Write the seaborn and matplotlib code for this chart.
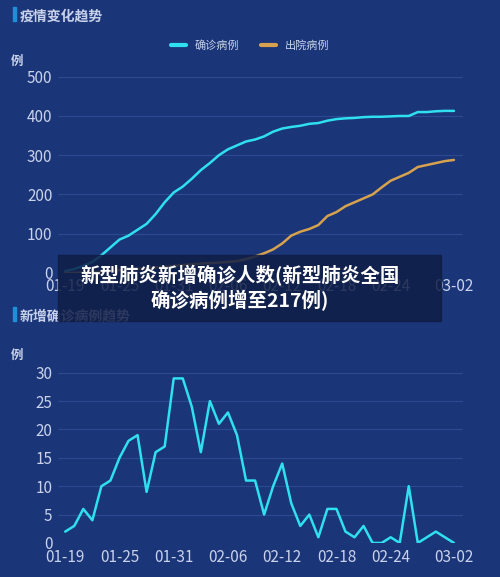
import matplotlib
matplotlib.use("Agg")
import matplotlib.pyplot as plt
import seaborn as sns
import pandas as pd
import numpy as np
from matplotlib.patches import Rectangle

sns.set_theme(style="dark")
plt.rcParams['font.family'] = ['Noto Sans CJK SC', 'DejaVu Sans']

tick_labels = ["01-19", "01-25", "01-31", "02-06", "02-12", "02-18", "02-24", "03-02"]
tick_days = [0, 6, 12, 18, 24, 30, 36, 43]
confirmed = [5, 10, 18, 28, 45, 65, 85, 95, 110, 125, 150, 180, 205, 220, 240, 262, 280, 300,
             315, 325, 335, 340, 348, 360, 368, 372, 375, 380, 382, 388, 392, 394, 395, 397,
             398, 398, 399, 400, 400, 410, 410, 412, 413, 413]
discharged = [0, 0, 1, 2, 3, 5, 7, 9, 10, 12, 14, 16, 18, 20, 22, 24, 25, 26, 28, 30, 35, 42,
              50, 60, 75, 95, 105, 112, 122, 145, 155, 170, 180, 190, 200, 218, 235, 245, 255,
              270, 275, 280, 285, 288]
new_cases = [2, 3, 6, 4, 10, 11, 15, 18, 19, 9, 16, 17, 29, 29, 24, 16, 25, 21, 23, 19, 11, 11,
             5, 10, 14, 7, 3, 5, 1, 6, 6, 2, 1, 3, 0, 0, 1, 0, 10, 0, 1, 2, 1, 0]
days = np.arange(len(confirmed))

BG = "#1b3579"
GRID = "#2c4a8f"
TXT = "#c8d2ea"
CYAN = "#2fe0f0"
ORANGE = "#d6a24e"

fig = plt.figure(figsize=(5, 5.77), dpi=100, facecolor=BG)
ax1 = fig.add_axes([0.116, 0.527, 0.81, 0.34], facecolor=BG)
ax2 = fig.add_axes([0.116, 0.059, 0.81, 0.295], facecolor=BG)

df1 = pd.DataFrame({"d": np.concatenate([days, days]),
                    "v": confirmed + discharged,
                    "s": ["确诊病例"] * len(days) + ["出院病例"] * len(days)})
sns.lineplot(data=df1, x="d", y="v", hue="s", palette=[CYAN, ORANGE], ax=ax1, lw=1.8, legend=False)
sns.lineplot(x=days, y=new_cases, ax=ax2, color=CYAN, lw=1.8)

for ax, top, step in [(ax1, 500, 100), (ax2, 30, 5)]:
    ax.set_xlim(-0.8, 44)
    ax.set_ylim(0, top)
    ax.set_yticks(np.arange(0, top + 1, step))
    ax.set_xticks(tick_days)
    ax.set_xticklabels(tick_labels)
    ax.grid(axis="y", color=GRID, lw=0.8)
    ax.grid(axis="x", visible=False)
    for s in ax.spines.values():
        s.set_visible(False)
    ax.tick_params(colors=TXT, labelsize=11, length=0, pad=4)
    ax.set_xlabel("")
    ax.set_ylabel("")
    ax.text(-0.1, 1.06 if top == 500 else 1.08, "例", transform=ax.transAxes, color=TXT, fontsize=9,
            ha="center", fontweight="bold")

# titles
for y, t in [(0.972, "疫情变化趋势"), (0.452, "新增确诊病例趋势")]:
    fig.patches.append(Rectangle((0.026, y - 0.008), 0.005, 0.024, transform=fig.transFigure, color="#1e90d8"))
    fig.text(0.04, y, t, color=TXT, fontsize=10, va="center", fontweight="bold")

# legend
from matplotlib.lines import Line2D
h = [Line2D([], [], color=CYAN, lw=3), Line2D([], [], color=ORANGE, lw=3)]
fig.legend(h, ["确诊病例", "出院病例"], loc="center", bbox_to_anchor=(0.5, 0.921), ncol=2, frameon=False,
           labelcolor=TXT, fontsize=8, handlelength=1.3, columnspacing=2)

# overlay
fig.patches.append(Rectangle((0.116, 0.443), 0.766, 0.115, transform=fig.transFigure,
                             color="#101e46", alpha=0.85, zorder=10))
fig.text(0.48, 0.501, "新型肺炎新增确诊人数(新型肺炎全国\n确诊病例增至217例)", color="white", fontsize=14,
         fontweight="bold", ha="center", va="center", linespacing=1.2, zorder=11)

fig.savefig("out.png", dpi=100, facecolor=BG)
